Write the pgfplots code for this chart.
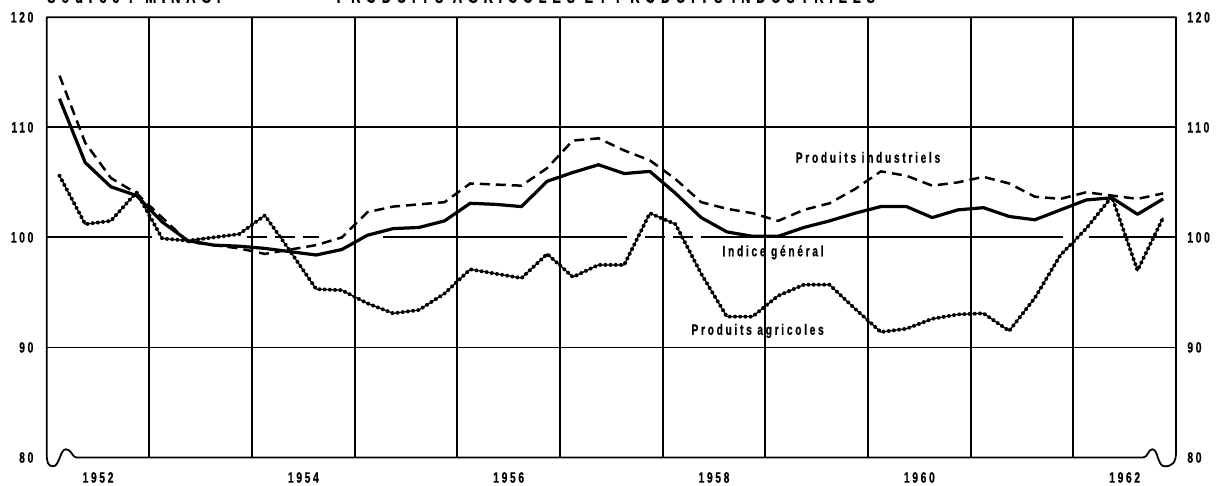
\documentclass[border=0pt]{standalone}
\usepackage{fontspec}
\usepackage{pgfplots}
\usepackage{pgfplotstable}
\pgfplotsset{compat=1.18}
\newfontfamily\lbl[FakeStretch=0.68,LetterSpace=18,FakeBold=0.7]{Liberation Sans}
\newfontfamily\lblw[FakeStretch=0.68,LetterSpace=30,FakeBold=0.7]{Liberation Sans}
\newcommand\lf{\lbl\bfseries\fontsize{7.5}{8}\selectfont}
\newcommand\tf{\lblw\bfseries\fontsize{9.5}{10}\selectfont}

\pgfplotstableread{
q g i a
0.5 112.6 114.7 105.6
1.5 106.8 108.6 101.2
2.5 104.6 105.4 101.5
3.5 103.8 104.0 104.1
4.5 101.4 101.8 99.9
5.5 99.7 99.6 99.7
6.5 99.3 99.3 100.0
7.5 99.2 99.0 100.3
8.5 99.0 98.5 102.0
9.5 98.7 98.9 98.7
10.5 98.4 99.3 95.3
11.5 98.9 100.0 95.2
12.5 100.2 102.3 94.0
13.5 100.8 102.8 93.1
14.5 100.9 103.0 93.4
15.5 101.5 103.2 94.9
16.5 103.1 104.9 97.1
17.5 103.0 104.8 96.7
18.5 102.8 104.7 96.3
19.5 105.1 106.3 98.5
20.5 105.9 108.8 96.4
21.5 106.6 109.0 97.5
22.5 105.8 107.9 97.5
23.5 106.0 107.0 102.2
24.5 104.0 105.3 101.2
25.5 101.8 103.2 96.7
26.5 100.5 102.6 92.8
27.5 100.1 102.2 92.8
28.5 100.1 101.5 94.7
29.5 100.9 102.5 95.7
30.5 101.5 103.1 95.7
31.5 102.2 104.4 93.5
32.5 102.8 106.0 91.4
33.5 102.8 105.6 91.7
34.5 101.8 104.7 92.6
35.5 102.5 105.0 93.0
36.5 102.7 105.5 93.1
37.5 101.9 104.9 91.5
38.5 101.6 103.7 94.5
39.5 102.5 103.5 98.4
40.5 103.4 104.1 100.8
41.5 103.6 103.8 103.7
42.5 102.1 103.5 97.0
43.5 103.5 104.0 101.8
}\data

\begin{document}
\begin{tikzpicture}
\useasboundingbox (-23.35pt,-14.25pt) rectangle (584.65pt,228.75pt);
\begin{axis}[at={(0,0)}, anchor=south west, scale only axis,
  width=564.65pt, height=220.1pt,
  xmin=0, xmax=44, ymin=80, ymax=120, clip=false,
  axis line style={draw=none},
  xtick={4,8,...,40}, xticklabels={}, xmajorgrids=true,
  ytick={80,90,100,110,120}, yticklabels={80,90,100,110,120},
  extra y ticks={90,110}, extra y tick labels={}, extra y tick style={grid=major},
  extra x ticks={2,10,18,26,34,42},
  extra x tick labels={1952,1954,1956,1958,1960,1962},
  extra x tick style={grid=none},
  major tick length=0pt,
  grid style={black, line width=0.9pt},
  yticklabel style={font=\lf, anchor=east, inner sep=0pt, xshift=-6.5pt},
  xticklabel style={font=\lf, anchor=center, inner sep=0pt, yshift=-10pt},
]
\draw[black, line width=0.9pt, line join=round]
  (axis cs:0,120) -- (axis cs:44,120) -- (axis cs:44,80.5)
  .. controls (axis cs:44,79.5) and (axis cs:43.85,79.2) .. (axis cs:43.55,79.2)
  .. controls (axis cs:43.28,79.2) and (axis cs:43.3,80.75) .. (axis cs:43.08,80.75)
  .. controls (axis cs:42.92,80.75) and (axis cs:42.9,80) .. (axis cs:42.72,80)
  -- (axis cs:1.15,80)
  .. controls (axis cs:1.0,80) and (axis cs:0.97,80.75) .. (axis cs:0.75,80.75)
  .. controls (axis cs:0.52,80.75) and (axis cs:0.5,79.2) .. (axis cs:0.25,79.2)
  .. controls (axis cs:0.04,79.2) and (axis cs:0,79.6) .. (axis cs:0,80.4) -- cycle;
\draw[black, line width=1pt] (axis cs:0,100) -- (axis cs:4.1,100);
\draw[black, line width=1pt, dash pattern=on 10pt off 4pt] (axis cs:7.8,100) -- (axis cs:10.6,100);
\draw[black, line width=1pt] (axis cs:13.1,100) -- (axis cs:22.6,100);
\draw[black, line width=1pt, dash pattern=on 10pt off 4pt] (axis cs:23.3,100) -- (axis cs:26,100);
\draw[black, line width=1pt] (axis cs:26,100) -- (axis cs:39.6,100);
\draw[black, line width=1pt] (axis cs:40.6,100) -- (axis cs:44,100);

\addplot[black, line width=1.6pt, line join=round] table[x=q,y=g]{\data};
\addplot[black, line width=1.25pt, dash pattern=on 5pt off 3pt] table[x=q,y=i]{\data};
\addplot[black, line width=0.6pt] table[x=q,y=a]{\data};
\addplot[black, line width=2pt, line cap=round, dash pattern=on 0pt off 2.6pt] table[x=q,y=a]{\data};

\node[font=\lf] at (axis cs:32.0,107.27) {Produits industriels};
\node[font=\lf] at (axis cs:28.3,98.64) {Indice général};
\node[font=\lf] at (axis cs:27.7,91.5) {Produits agricoles};
\node[font=\tf, anchor=base west, inner sep=0pt] at ([yshift=7.2pt]axis cs:0,120) {Source : MINAG.};
\node[font=\tf, anchor=base, inner sep=0pt] at ([yshift=7.2pt]axis cs:21.79,120) {PRODUITS AGRICOLES ET PRODUITS INDUSTRIELS};
\end{axis}
\begin{axis}[at={(0,0)}, anchor=south west, scale only axis,
  width=564.65pt, height=220.1pt,
  xmin=0, xmax=44, ymin=80, ymax=120,
  hide x axis, axis line style={draw=none},
  ytick={80,90,100,110,120}, yticklabels={80,90,100,110,120},
  yticklabel pos=right, major tick length=0pt,
  yticklabel style={font=\lf, anchor=west, inner sep=0pt, xshift=5.5pt},
]
\end{axis}
\end{tikzpicture}
\end{document}
